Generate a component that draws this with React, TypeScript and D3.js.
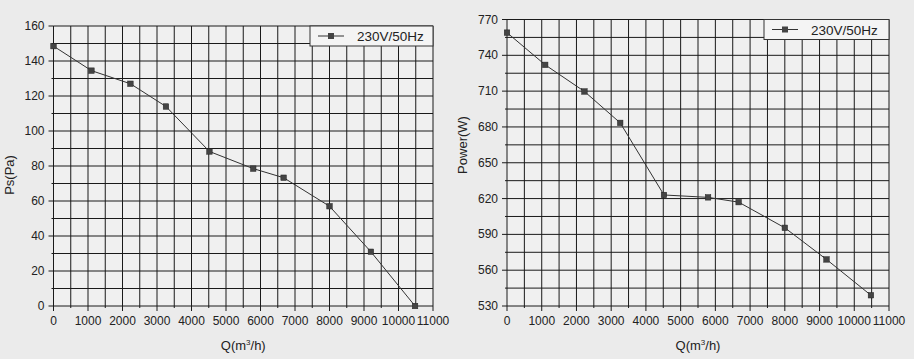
import React from "react";
import * as d3 from "d3";

const flowQ = [0, 1100, 2230, 3260, 4520, 5790, 6670, 8000, 9200, 10480];
const pressurePa = [148.5, 134.5, 127, 114, 88.3, 78.5, 73.3, 57, 31, 0];
const powerW = [759, 732, 709.7, 683.4, 623, 621, 617, 595.5, 569, 539];
const xTicks = [0, 1000, 2000, 3000, 4000, 5000, 6000, 7000, 8000, 9000, 10000, 11000];
const psTicks = [0, 20, 40, 60, 80, 100, 120, 140, 160];
const powerTicks = [530, 560, 590, 620, 650, 680, 710, 740, 770];
const legendLabel = "230V/50Hz";

const FONT = "'Liberation Sans', Arial, sans-serif";
const NARROW = "'Liberation Sans Narrow', 'Arial Narrow', 'Liberation Sans', sans-serif";

type PanelProps = {
  left: number; right: number; top: number; bottom: number;
  yDomain: [number, number]; yTicks: number[]; yStep: number;
  values: number[]; yTitle: string; yTitleY: number; yTitleX: number;
  legendW: number;
};

function Panel(p: PanelProps) {
  const x = d3.scaleLinear().domain([0, 11000]).range([p.left, p.right]);
  const y = d3.scaleLinear().domain(p.yDomain).range([p.bottom, p.top]);
  const vGrid = d3.range(0, 11000 + 1, 500);
  const hGrid = d3.range(p.yDomain[0], p.yDomain[1] + 0.001, p.yStep / 2);
  const line = d3.line<number>().x((_, i) => x(flowQ[i])).y((d) => y(d));
  const lx = p.right - p.legendW;
  const ly = p.top;
  const lh = 20;
  return (
    <g>
      <rect x={p.left} y={p.top} width={p.right - p.left} height={p.bottom - p.top} fill="#f0f0f0" />
      {vGrid.map((v) => (
        <line key={"v" + v} x1={x(v)} x2={x(v)} y1={p.top} y2={p.bottom} stroke="#1a1a1a" strokeWidth={1} />
      ))}
      {hGrid.map((v) => (
        <line key={"h" + v} x1={p.left} x2={p.right} y1={y(v)} y2={y(v)} stroke="#1a1a1a" strokeWidth={1} />
      ))}
      {xTicks.map((v) => (
        <line key={"xt" + v} x1={x(v)} x2={x(v)} y1={p.bottom} y2={p.bottom + 5} stroke="#1a1a1a" />
      ))}
      {vGrid.filter((v) => v % 1000 !== 0).map((v) => (
        <line key={"xm" + v} x1={x(v)} x2={x(v)} y1={p.bottom} y2={p.bottom + 2} stroke="#1a1a1a" />
      ))}
      {p.yTicks.map((v) => (
        <line key={"yt" + v} x1={p.left - 5} x2={p.left} y1={y(v)} y2={y(v)} stroke="#1a1a1a" />
      ))}
      {hGrid.filter((v, i) => i % 2 === 1).map((v) => (
        <line key={"ym" + v} x1={p.left - 2} x2={p.left} y1={y(v)} y2={y(v)} stroke="#1a1a1a" />
      ))}
      {xTicks.map((v) => (
        <text key={"xl" + v} x={x(v)} y={p.bottom + 19} textAnchor="middle" fontFamily={NARROW} fontSize={12} fill="#222">{v}</text>
      ))}
      {p.yTicks.map((v) => (
        <text key={"yl" + v} x={p.left - 9} y={y(v) + 4} textAnchor="end" fontFamily={NARROW} fontSize={12} fill="#222">{v}</text>
      ))}
      <path d={line(p.values) || ""} fill="none" stroke="#333" strokeWidth={1} />
      {p.values.map((v, i) => (
        <rect key={"m" + i} x={x(flowQ[i]) - 2.75} y={y(v) - 2.75} width={5.5} height={5.5} fill="#444" stroke="#222" strokeWidth={0.5} />
      ))}
      <rect x={lx} y={ly} width={p.legendW} height={lh} fill="#f4f4f4" stroke="#333" strokeWidth={1} />
      <line x1={lx + 8} x2={lx + 34} y1={ly + lh / 2} y2={ly + lh / 2} stroke="#333" />
      <rect x={lx + 18} y={ly + lh / 2 - 3} width={6} height={6} fill="#444" />
      <text x={lx + 47} y={ly + lh / 2 + 5} fontFamily={FONT} fontSize={13.5} fill="#222">{legendLabel}</text>
      <text x={(p.left + p.right) / 2} y={350} textAnchor="middle" fontFamily={FONT} fontSize={13} fill="#222">
        Q(m<tspan dy={-5} fontSize={8}>3</tspan><tspan dy={5}>/h)</tspan>
      </text>
      <text transform={`translate(${p.yTitleX},${p.yTitleY}) rotate(-90)`} textAnchor="middle" fontFamily={FONT} fontSize={13} fill="#222">{p.yTitle}</text>
    </g>
  );
}

export default function App() {
  return (
    <svg width={914} height={359} style={{ position: "absolute", left: 0, top: 0, background: "#ebebeb" }}>
      <rect x={0} y={0} width={914} height={359} fill="#ebebeb" />
      <Panel left={53.5} right={433} top={26} bottom={306} yDomain={[0, 160]} yTicks={psTicks} yStep={20}
        values={pressurePa} yTitle="Ps(Pa)" yTitleX={14} yTitleY={175} legendW={123} />
      <Panel left={507} right={889} top={19.5} bottom={306} yDomain={[530, 770]} yTicks={powerTicks} yStep={30}
        values={powerW} yTitle="Power(W)" yTitleX={467} yTitleY={145} legendW={125} />
    </svg>
  );
}
